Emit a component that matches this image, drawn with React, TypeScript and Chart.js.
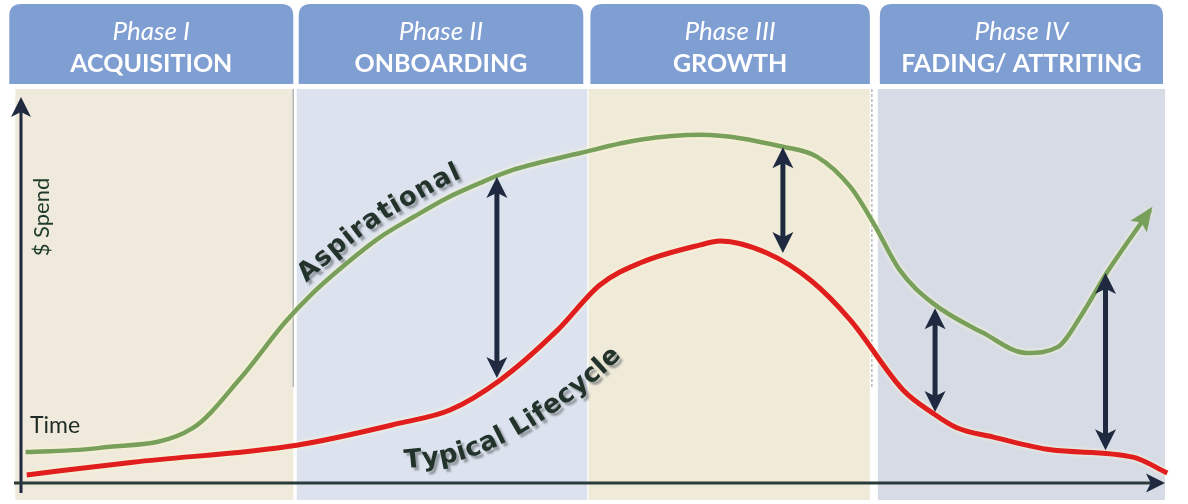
import React, { useEffect, useRef } from "react";
import { Chart, registerables } from "chart.js";

Chart.register(...registerables);

// ---- data ----
const phaseTitles = ["Phase I", "Phase II", "Phase III", "Phase IV"];
const phaseNames = ["ACQUISITION", "ONBOARDING", "GROWTH", "FADING/ ATTRITING"];
const phaseStart = [-0.5, 24.1, 49.6, 74.9];
const phaseEnd = [23.8, 49.5, 74.2, 100.0];

const aspirationalTime = [0.4, 6.9, 15.0, 19.2, 23.1, 25.5, 28.5, 31.4, 34.3, 37.2, 40.1, 43.0, 48.9, 54.1, 59.4, 66.6, 69.6, 72.5, 74.5, 76.8, 79.7, 84.1, 87.9, 90.6, 92.8, 94.9, 98.7];
const aspirationalSpend = [8.0, 9.1, 14.2, 27.2, 41.7, 49.2, 57.0, 63.7, 68.9, 73.8, 77.7, 81.1, 85.5, 88.9, 90.2, 87.1, 84.5, 76.7, 67.4, 55.2, 46.6, 38.9, 33.7, 35.2, 44.0, 54.4, 70.7];

const typicalTime = [0.5, 9.8, 24.1, 33.1, 37.5, 41.9, 46.9, 50.6, 54.1, 59.4, 61.1, 65.2, 69.0, 72.5, 77.1, 79.7, 81.8, 85.0, 90.0, 97.2, 100.2];
const typicalSpend = [2.1, 5.4, 9.8, 15.5, 18.9, 26.7, 39.6, 51.3, 57.0, 61.7, 62.7, 59.6, 52.6, 42.2, 24.1, 18.1, 14.3, 11.9, 8.6, 6.7, 2.6];

const gapTime = [41.6, 66.6, 79.9, 94.8];
const gapTop = [79.3, 87.0, 45.3, 54.4];
const gapBottom = [27.2, 59.6, 18.4, 8.5];

const axisLabelY = "$ Spend";
const axisLabelX = "Time";

// ---- styles ----
const NAVY = "#1f2a40";
const HEADER = "#7f9ed2";
const BG = ["#efeadb", "#dde3ee", "#f0ead9", "#d6dbe5"];
const TEXT_DARK = "#22332b";

type P = { x: number; y: number };

function arrowHead(ctx: CanvasRenderingContext2D, tipX: number, tipY: number, dx: number, dy: number, len: number, width: number, color: string, notch = 0.75) {
  const L = Math.hypot(dx, dy);
  const ux = dx / L, uy = dy / L;
  const px = -uy, py = ux;
  const bx = tipX - ux * len, by = tipY - uy * len;
  const nx = tipX - ux * len * notch, ny = tipY - uy * len * notch;
  ctx.beginPath();
  ctx.moveTo(tipX, tipY);
  ctx.lineTo(bx + (px * width) / 2, by + (py * width) / 2);
  ctx.lineTo(nx, ny);
  ctx.lineTo(bx - (px * width) / 2, by - (py * width) / 2);
  ctx.closePath();
  ctx.fillStyle = color;
  ctx.fill();
}

function curvePoints(chart: any, idx: number): P[] {
  const pts = chart.getDatasetMeta(idx).data as any[];
  const out: P[] = [];
  for (let i = 0; i < pts.length - 1; i++) {
    const a = pts[i], b = pts[i + 1];
    const c1x = a.cp2x ?? a.x, c1y = a.cp2y ?? a.y;
    const c2x = b.cp1x ?? b.x, c2y = b.cp1y ?? b.y;
    const N = 20;
    for (let k = 0; k < N; k++) {
      const t = k / N, m = 1 - t;
      out.push({
        x: m * m * m * a.x + 3 * m * m * t * c1x + 3 * m * t * t * c2x + t * t * t * b.x,
        y: m * m * m * a.y + 3 * m * m * t * c1y + 3 * m * t * t * c2y + t * t * t * b.y,
      });
    }
  }
  const last = pts[pts.length - 1];
  out.push({ x: last.x, y: last.y });
  return out;
}

function offsetPath(pts: P[], off: (x: number) => number): P[] {
  const out: P[] = [];
  for (let i = 0; i < pts.length; i++) {
    const a = pts[Math.max(0, i - 1)], b = pts[Math.min(pts.length - 1, i + 1)];
    const dx = b.x - a.x, dy = b.y - a.y;
    const L = Math.hypot(dx, dy) || 1;
    const nx = dy / L, ny = -dx / L;
    const o = off(pts[i].x);
    out.push({ x: pts[i].x + nx * o, y: pts[i].y + ny * o });
  }
  return out;
}

function textAlong(ctx: CanvasRenderingContext2D, path: P[], text: string, startX: number, spacing: number) {
  const cum = [0];
  for (let i = 1; i < path.length; i++) cum.push(cum[i - 1] + Math.hypot(path[i].x - path[i - 1].x, path[i].y - path[i - 1].y));
  const at = (s: number): P => {
    let i = 1;
    while (i < path.length - 1 && cum[i] < s) i++;
    const seg = cum[i] - cum[i - 1] || 1;
    const f = (s - cum[i - 1]) / seg;
    return { x: path[i - 1].x + (path[i].x - path[i - 1].x) * f, y: path[i - 1].y + (path[i].y - path[i - 1].y) * f };
  };
  let k = 0;
  while (k < path.length - 1 && path[k].x < startX) k++;
  let s = cum[k];
  for (const ch of text) {
    const w = ctx.measureText(ch).width;
    const p = at(s), q = at(s + Math.max(w, 6));
    const ang = Math.atan2(q.y - p.y, q.x - p.x);
    ctx.save();
    ctx.translate(p.x, p.y);
    ctx.rotate(ang);
    ctx.fillText(ch, 0, 0);
    ctx.restore();
    s += w + spacing;
  }
}

function roundTopRect(ctx: CanvasRenderingContext2D, x: number, y: number, w: number, h: number, r: number) {
  ctx.beginPath();
  ctx.moveTo(x, y + h);
  ctx.lineTo(x, y + r);
  ctx.quadraticCurveTo(x, y, x + r, y);
  ctx.lineTo(x + w - r, y);
  ctx.quadraticCurveTo(x + w, y, x + w, y + r);
  ctx.lineTo(x + w, y + h);
  ctx.closePath();
}

const diagramPlugin = {
  id: "lifecycleDiagram",
  beforeDatasetsDraw(chart: any) {
    const { ctx, chartArea, scales } = chart;
    const xs = scales.x;
    ctx.save();
    ctx.fillStyle = "#ffffff";
    ctx.fillRect(0, 0, chart.width, chart.height);
    const bgTop = chartArea.top - 8;
    const bgBottom = chartArea.bottom + 17;
    for (let i = 0; i < phaseStart.length; i++) {
      const x0 = xs.getPixelForValue(phaseStart[i]);
      const x1 = xs.getPixelForValue(phaseEnd[i]);
      ctx.fillStyle = BG[i];
      ctx.fillRect(x0, bgTop, x1 - x0, bgBottom - bgTop);
      const hx0 = i === 0 ? x0 - 6 : x0 + 2;
      const hx1 = i === phaseStart.length - 1 ? x1 - 2 : i === 1 ? x1 - 4 : x1;
      ctx.fillStyle = HEADER;
      roundTopRect(ctx, hx0, chartArea.top - 93, hx1 - hx0, 80, 12);
      ctx.fill();
      const cx = (hx0 + hx1) / 2;
      ctx.fillStyle = "#ffffff";
      ctx.textAlign = "center";
      ctx.textBaseline = "alphabetic";
      ctx.font = "italic 26px Lato";
      ctx.fillText(phaseTitles[i], cx, chartArea.top - 57);
      ctx.font = "bold 25px Lato";
      ctx.fillText(phaseNames[i], cx, chartArea.top - 25);
    }
    ctx.strokeStyle = "rgba(150,155,165,0.7)";
    ctx.lineWidth = 1.5;
    const d1 = xs.getPixelForValue(phaseEnd[0]);
    ctx.beginPath();
    ctx.moveTo(d1, bgTop);
    ctx.lineTo(d1, chartArea.top + 290);
    ctx.stroke();
    const d3 = xs.getPixelForValue(phaseEnd[2]) + 2;
    ctx.setLineDash([3, 2]);
    ctx.beginPath();
    ctx.moveTo(d3, bgTop);
    ctx.lineTo(d3, chartArea.top + 292);
    ctx.stroke();
    ctx.setLineDash([]);
    ctx.restore();
  },
  beforeDatasetDraw(chart: any) {
    const ctx = chart.ctx;
    ctx.save();
    ctx.shadowColor = "rgba(255,250,215,0.95)";
    ctx.shadowBlur = 4;
  },
  afterDatasetDraw(chart: any) {
    chart.ctx.restore();
  },
  afterDatasetsDraw(chart: any) {
    const { ctx, chartArea, scales } = chart;
    const xs = scales.x, ys = scales.y;
    ctx.save();

    // axes
    ctx.strokeStyle = NAVY;
    ctx.lineWidth = 3;
    ctx.beginPath();
    ctx.moveTo(chartArea.left, chartArea.bottom + 10);
    ctx.lineTo(chartArea.left, chartArea.top + 14);
    ctx.stroke();
    arrowHead(ctx, chartArea.left, chartArea.top, 0, -1, 20, 20, NAVY);
    ctx.strokeStyle = "#2a3b3b";
    ctx.beginPath();
    ctx.moveTo(chartArea.left - 7, chartArea.bottom);
    ctx.lineTo(chartArea.right - 12, chartArea.bottom);
    ctx.stroke();
    arrowHead(ctx, chartArea.right, chartArea.bottom, 1, 0, 19, 19, NAVY);

    // green end arrow
    const g = curvePoints(chart, 0);
    const gl = g[g.length - 1], gp = g[g.length - 8];
    const gdx = gl.x - gp.x, gdy = gl.y - gp.y;
    const gL = Math.hypot(gdx, gdy);
    arrowHead(ctx, gl.x + (gdx / gL) * 4, gl.y + (gdy / gL) * 4, gdx, gdy, 24, 20, "#79a05b", 0.8);

    // gap arrows
    for (let i = 0; i < gapTime.length; i++) {
      const x = xs.getPixelForValue(gapTime[i]);
      const yt = ys.getPixelForValue(gapTop[i]);
      const yb = ys.getPixelForValue(gapBottom[i]);
      ctx.strokeStyle = NAVY;
      ctx.lineWidth = 5;
      ctx.beginPath();
      ctx.moveTo(x, yt + 12);
      ctx.lineTo(x, yb - 12);
      ctx.stroke();
      arrowHead(ctx, x, yt, 0, -1, 21, 21, NAVY);
      arrowHead(ctx, x, yb, 0, 1, 21, 21, NAVY);
    }

    // axis labels
    ctx.fillStyle = "#1f3b2a";
    ctx.font = "22px Lato";
    ctx.textAlign = "center";
    ctx.textBaseline = "middle";
    ctx.save();
    ctx.translate(chartArea.left + 21, chartArea.top + 120);
    ctx.rotate(-Math.PI / 2);
    ctx.fillText(axisLabelY, 0, 0);
    ctx.restore();
    ctx.fillStyle = "#1e2b26";
    ctx.textAlign = "left";
    ctx.textBaseline = "alphabetic";
    ctx.font = "23px Lato";
    ctx.fillText(axisLabelX, chartArea.left + 9, chartArea.bottom - 50);

    // curve labels
    ctx.font = "bold 26px 'DejaVu Sans'";
    ctx.textAlign = "left";
    ctx.textBaseline = "alphabetic";
    ctx.fillStyle = TEXT_DARK;
    ctx.shadowColor = "rgba(90,95,100,0.55)";
    ctx.shadowOffsetX = 3;
    ctx.shadowOffsetY = 3;
    ctx.shadowBlur = 2;
    const gPath = offsetPath(g, () => 12);
    textAlong(ctx, gPath, chart.data.datasets[0].label, 306, 1);
    const r = curvePoints(chart, 1);
    const rPath = offsetPath(r, (x: number) => {
      const f = Math.min(1, Math.max(0, (x - 385) / (580 - 385)));
      return -(44 + f * 22);
    });
    textAlong(ctx, rPath, chart.data.datasets[1].label, 400, 0.5);
    ctx.restore();
  },
};

export default function App() {
  const ref = useRef<HTMLCanvasElement | null>(null);
  useEffect(() => {
    if (!ref.current) return;
    const chart = new Chart(ref.current, {
      type: "line",
      data: {
        datasets: [
          {
            label: "Aspirational",
            data: aspirationalTime.map((t, i) => ({ x: t, y: aspirationalSpend[i] })),
            borderColor: "#79a05b",
            borderWidth: 4.5,
            pointRadius: 0,
            cubicInterpolationMode: "monotone",
            fill: false,
            clip: false as any,
          },
          {
            label: "Typical Lifecycle",
            data: typicalTime.map((t, i) => ({ x: t, y: typicalSpend[i] })),
            borderColor: "#e01e1e",
            borderWidth: 5,
            pointRadius: 0,
            cubicInterpolationMode: "monotone",
            fill: false,
            clip: false as any,
          },
        ],
      },
      options: {
        animation: false,
        responsive: false,
        devicePixelRatio: 1,
        layout: { padding: { left: 21, right: 23, top: 97, bottom: 21 } },
        scales: {
          x: { type: "linear", min: 0, max: 100, display: false },
          y: { type: "linear", min: 0, max: 100, display: false },
        },
        plugins: { legend: { display: false }, tooltip: { enabled: false } },
      },
      plugins: [diagramPlugin],
    });
    return () => chart.destroy();
  }, []);
  return (
    <div style={{ position: "fixed", left: 0, top: 0, width: 1188, height: 504, background: "#fff" }}>
      <canvas ref={ref} width={1188} height={504} style={{ display: "block", width: 1188, height: 504 }} />
    </div>
  );
}
